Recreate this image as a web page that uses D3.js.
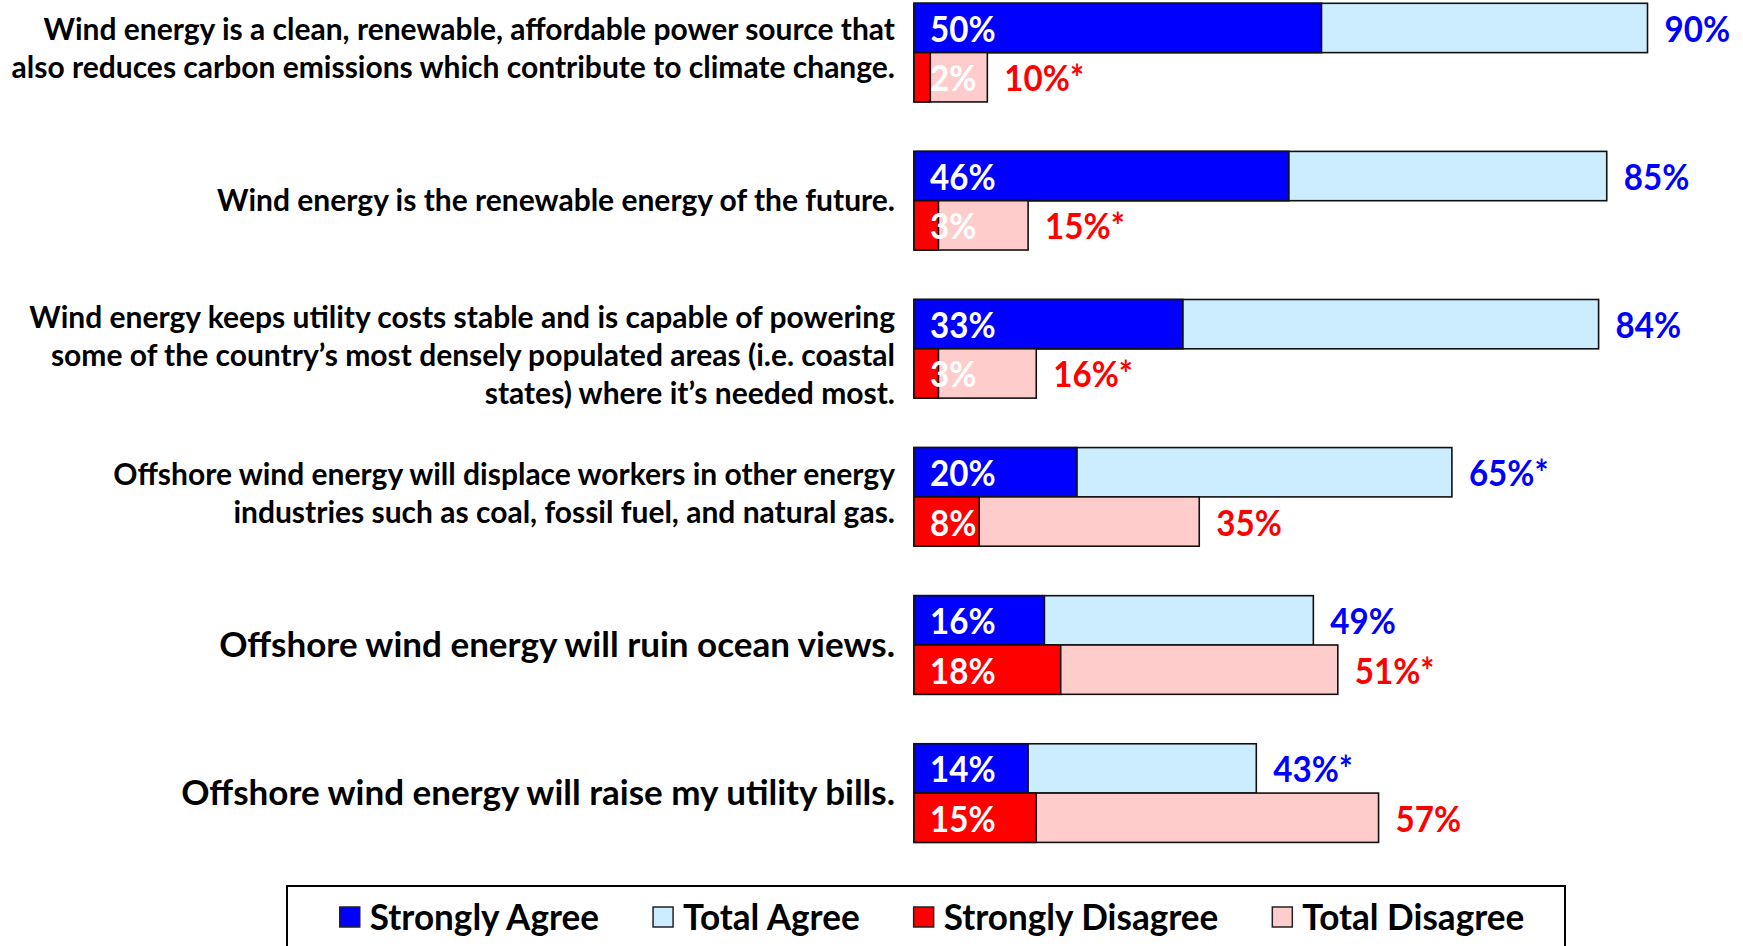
<!DOCTYPE html>
<html>
<head>
<meta charset="utf-8">
<script src="https://cdn.jsdelivr.net/npm/d3@7"></script>
<style>
  html, body { margin: 0; padding: 0; background: #fff; }
  svg { display: block; }
  text { font-family: Lato, "Open Sans", sans-serif; font-weight: 700; }
</style>
</head>
<body>
<svg id="chart" width="1743" height="946"></svg>
<script>
// ---------------- DATA ----------------
const categories = [
  ["Wind energy is a clean, renewable, affordable power source that",
   "also reduces carbon emissions which contribute to climate change."],
  ["Wind energy is the renewable energy of the future."],
  ["Wind energy keeps utility costs stable and is capable of powering",
   "some of the country\u2019s most densely populated areas (i.e. coastal",
   "states) where it\u2019s needed most."],
  ["Offshore wind energy will displace workers in other energy",
   "industries such as coal, fossil fuel, and natural gas."],
  ["Offshore wind energy will ruin ocean views."],
  ["Offshore wind energy will raise my utility bills."]
];
const strongAgree    = [50, 46, 33, 20, 16, 14];
const totalAgree     = [90, 85, 84, 66, 49, 42];
const strongDisagree = [2, 3, 3, 8, 18, 15];
const totalDisagree  = [9, 14, 15, 35, 52, 57];

const strongAgreeLabels    = ["50%", "46%", "33%", "20%", "16%", "14%"];
const totalAgreeLabels     = ["90%", "85%", "84%", "65%*", "49%", "43%*"];
const strongDisagreeLabels = ["2%", "3%", "3%", "8%", "18%", "15%"];
const totalDisagreeLabels  = ["10%*", "15%*", "16%*", "35%", "51%*", "57%"];

const legendLabels = ["Strongly Agree", "Total Agree", "Strongly Disagree", "Total Disagree"];

// ---------------- STYLE ----------------
const C = {
  strongAgree: "#0000FF",
  totalAgree: "#CCECFF",
  strongDisagree: "#FF0000",
  totalDisagree: "#FFCCCC",
  agreeText: "#0000FF",
  disagreeText: "#FF0000"
};
const legendColors = [C.strongAgree, C.totalAgree, C.strongDisagree, C.totalDisagree];

const svg = d3.select("#chart");

const x = d3.scaleLinear().domain([0, 100]).range([914, 1729]);
const y = d3.scaleBand().domain(d3.range(categories.length))
  .range([3.3, 842.4]).paddingInner(0.334).paddingOuter(0);
const sub = d3.scaleBand().domain(["agree", "disagree"]).range([0, y.bandwidth()]);

function compress(k) {
  return sel => sel.each(function () {
    const L = this.getComputedTextLength();
    d3.select(this).attr("textLength", L * k).attr("lengthAdjust", "spacingAndGlyphs");
  });
}

const rows = categories.map((c, i) => ({
  i, lines: c,
  sa: strongAgree[i], ta: totalAgree[i], sd: strongDisagree[i], td: totalDisagree[i],
  saL: strongAgreeLabels[i], taL: totalAgreeLabels[i],
  sdL: strongDisagreeLabels[i], tdL: totalDisagreeLabels[i]
}));

const g = svg.selectAll("g.row").data(rows).join("g")
  .attr("class", "row")
  .attr("transform", d => `translate(0,${y(d.i)})`);

const bh = sub.bandwidth();
const series = [
  { key: "agree", tot: "ta", str: "sa", totC: C.totalAgree, strC: C.strongAgree, totL: "taL", strL: "saL", txt: C.agreeText },
  { key: "disagree", tot: "td", str: "sd", totC: C.totalDisagree, strC: C.strongDisagree, totL: "tdL", strL: "sdL", txt: C.disagreeText }
];

series.forEach(s => {
  g.append("rect")
    .attr("x", x(0)).attr("y", sub(s.key))
    .attr("width", d => x(d[s.tot]) - x(0)).attr("height", bh)
    .attr("fill", s.totC).attr("stroke", "#111").attr("stroke-width", 1.6);
  g.append("rect")
    .attr("x", x(0)).attr("y", sub(s.key))
    .attr("width", d => x(d[s.str]) - x(0)).attr("height", bh)
    .attr("fill", s.strC).attr("stroke", "#111").attr("stroke-width", 1.6);
  g.append("text")
    .attr("x", x(0) + 16).attr("y", sub(s.key) + bh / 2 + 14)
    .attr("font-size", 36).attr("fill", "#fff")
    .text(d => d[s.strL]).call(compress(0.92));
  g.append("text")
    .attr("x", d => x(d[s.tot]) + 17).attr("y", sub(s.key) + bh / 2 + 14)
    .attr("font-size", 36).attr("fill", s.txt)
    .text(d => d[s.totL]).call(compress(0.92));
});

// category labels
const lineH = 38;
g.each(function (d) {
  const fs = d.i >= 4 ? 35 : 30;
  const n = d.lines.length;
  const cy = y.bandwidth() / 2 + (n === 3 ? 6 : n === 2 ? -4 : -1);
  d3.select(this).selectAll("text.cat").data(d.lines).join("text")
    .attr("class", "cat")
    .attr("x", 895)
    .attr("y", (l, j) => cy + (j - (n - 1) / 2) * lineH + fs * 0.36)
    .attr("text-anchor", "end")
    .attr("font-size", fs)
    .attr("fill", "#000")
    .text(l => l);
});

// legend
const lg = svg.append("g");
lg.append("rect").attr("x", 287).attr("y", 886).attr("width", 1278).attr("height", 80)
  .attr("fill", "#fff").attr("stroke", "#000").attr("stroke-width", 2);
const items = lg.selectAll("g.item").data(legendLabels).join("g").attr("class", "item");
items.append("rect").attr("width", 20).attr("height", 20).attr("y", 907)
  .attr("fill", (d, i) => legendColors[i]).attr("stroke", "#222").attr("stroke-width", 1.5);
items.append("text").attr("x", 30).attr("y", 930).attr("font-size", 36).attr("fill", "#000")
  .text(d => d).call(compress(0.975));
const widths = [];
items.each(function () {
  widths.push(30 + +this.querySelector("text").getAttribute("textLength"));
});
const gap = 54;
const total = d3.sum(widths) + gap * (widths.length - 1);
let cx = 932 - total / 2;
items.attr("transform", (d, i) => {
  const t = `translate(${cx},0)`;
  cx += widths[i] + gap;
  return t;
});
</script>
</body>
</html>
